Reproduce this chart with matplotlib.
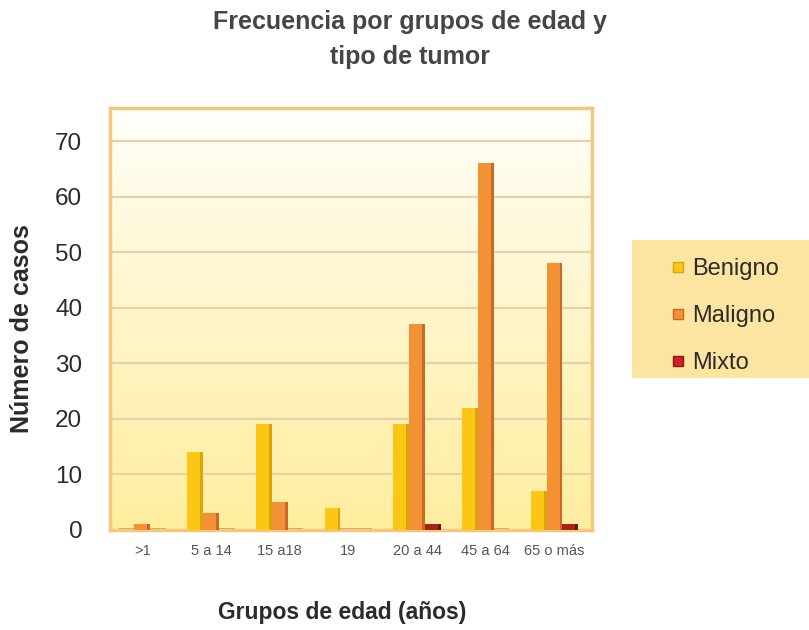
import numpy as np
import matplotlib
matplotlib.use("Agg")
import matplotlib.pyplot as plt
from matplotlib.patches import Rectangle
from matplotlib.lines import Line2D

plt.rcParams["font.family"] = ["Liberation Sans", "DejaVu Sans"]

# ── Data ──────────────────────────────────────────────────────────────────────
grupos = [">1", "5 a 14", "15 a18", "19", "20 a 44", "45 a 64", "65 o más"]
benigno = [0, 14, 19, 4, 19, 22, 7]
maligno = [1, 3, 5, 0, 37, 66, 48]
mixto = [0, 0, 0, 0, 1, 0, 1]
series_names = ["Benigno", "Maligno", "Mixto"]

# ── Style ─────────────────────────────────────────────────────────────────────
C_BEN = "#FBC614"
C_MAL = "#F39135"
C_MIX = "#A82218"
C_MIX_LEG = "#D0202A"
SHADE = {C_BEN: "#D9A40C", C_MAL: "#C8682A", C_MIX: "#6E1410",
         C_MIX_LEG: "#8A1515"}
FRAME = "#F5C77C"
GRID = "#E6D2AA"
TXT = "#2B2B2B"

fig = plt.figure(figsize=(8.09, 6.30), dpi=100)
fig.patch.set_facecolor("white")
ax = fig.add_axes([0.136, 0.159, 0.596, 0.670])

x = np.arange(len(grupos))
w = 0.23

# soft white-to-yellow background
grad = np.linspace(0, 1, 256).reshape(-1, 1)
top = np.array([1.0, 1.0, 0.99])
bot = np.array([1.0, 0.93, 0.62])
img = top + (bot - top) * grad[..., None] ** 0.9
ax.imshow(img, extent=(-0.47, 6.55, 0, 76), aspect="auto", zorder=0,
          origin="upper")

for yv in range(10, 80, 10):
    ax.axhline(yv, color=GRID, lw=1.6, zorder=1)

for off, vals, col in [(-w, benigno, C_BEN), (0, maligno, C_MAL), (w, mixto, C_MIX)]:
    ax.bar(x + off, vals, width=w, color=col, zorder=3, linewidth=0)
    # darker right edge for a slight relief
    ax.bar(x + off + w / 2 - 0.02, vals, width=0.04, color=SHADE[col],
           zorder=4, linewidth=0)

# shadow line under each group
for xi in x:
    ax.plot([xi - 1.5 * w, xi + 1.5 * w], [0.2, 0.2], color="#7A4A1A",
            lw=1.2, alpha=0.5, zorder=2, solid_capstyle="butt")

ax.set_xlim(-0.47, 6.55)
ax.set_ylim(0, 76)
ax.set_yticks(range(0, 80, 10))
ax.set_xticks(x)
ax.set_xticklabels(grupos, fontsize=10.5, color="#555555")
ax.tick_params(axis="y", labelsize=17.5, colors=TXT, length=0, pad=20)
ax.tick_params(axis="x", length=0, pad=10)
for s in ax.spines.values():
    s.set_color(FRAME)
    s.set_linewidth(2.5)

fig.text(22 / 809, 1 - 329 / 630, "Número de casos", rotation=90,
         ha="center", va="center", fontsize=18, fontweight="bold", color=TXT)
fig.text(342 / 809, 1 - 612 / 630, "Grupos de edad (años)",
         ha="center", va="center", fontsize=16.5, fontweight="bold", color=TXT)

fig.text(410 / 809, 1 - 22 / 630, "Frecuencia por grupos de edad y",
         ha="center", va="center", fontsize=18, fontweight="bold",
         color="#454545")
fig.text(410 / 809, 1 - 57 / 630, "tipo de tumor",
         ha="center", va="center", fontsize=18, fontweight="bold",
         color="#454545")

# legend panel
fig.patches.append(Rectangle((632 / 809, 1 - 378 / 630), 177 / 809, 138 / 630,
                             transform=fig.transFigure, facecolor="#FCE5A0",
                             edgecolor="none", zorder=0))
handles = [Line2D([], [], marker="s", ls="none", markersize=7, color=c,
                  markeredgecolor=SHADE[c]) for c in (C_BEN, C_MAL, C_MIX_LEG)]
leg = fig.legend(handles, series_names, loc="upper left",
                 bbox_to_anchor=(645 / 809, 1 - 237 / 630), frameon=False,
                 fontsize=17, labelspacing=1.05, handletextpad=0.1,
                 handlelength=1.0, labelcolor=TXT)

fig.savefig("out.png", dpi=100, facecolor="white")
